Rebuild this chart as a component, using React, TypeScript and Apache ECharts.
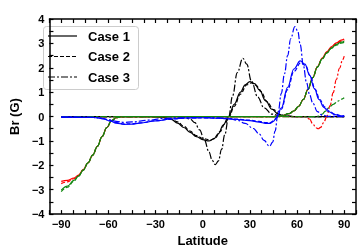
import React, { useEffect, useRef } from "react";
import * as echarts from "echarts";

const xTicks = [-90, -60, -30, 0, 30, 60, 90];
const yTicks = [-4, -3, -2, -1, 0, 1, 2, 3, 4];
const caseNames = ["Case 1", "Case 2", "Case 3"];

// Black curves
const black1: number[][] = [[-90,0],[-40,0],[-30,-0.01],[-25,-0.04],[-20,-0.12],[-16,-0.27],[-12,-0.45],[-8,-0.65],[-4,-0.82],[0,-0.95],[4,-1.0],[7,-0.92],[10,-0.7],[13,-0.35],[16.5,0],[20,0.5],[24,1.0],[27,1.3],[30,1.43],[33,1.35],[36,1.1],[40,0.65],[44,0.3],[48,0.1],[52,0.03],[58,0],[90,0]];
const black2: number[][] = [[-90,0],[-40,0],[-30,-0.01],[-25,-0.03],[-20,-0.1],[-16,-0.22],[-12,-0.4],[-8,-0.6],[-4,-0.78],[0,-0.9],[5,-0.96],[8,-0.88],[11,-0.62],[14,-0.3],[17,0.02],[20,0.42],[24,0.92],[28,1.3],[31,1.38],[34,1.28],[37,1.02],[41,0.6],[45,0.28],[49,0.09],[53,0.02],[58,0],[90,0]];
const black3: number[][] = [[-90,0],[-20,0],[-12,-0.03],[-8,-0.1],[-5,-0.25],[-2,-0.55],[1,-0.95],[4,-1.45],[6,-1.8],[8,-1.97],[10,-1.82],[12,-1.35],[14,-0.75],[16.5,0],[19,0.85],[22,1.8],[25.5,2.39],[28,2.15],[31,1.45],[35,0.8],[39,0.36],[44,0.1],[50,0.01],[56,0],[90,0]];

// Red curves
const red1: number[][] = [[-90,-2.66],[-86,-2.62],[-82,-2.52],[-79,-2.4],[-76,-2.18],[-73,-1.9],[-70,-1.58],[-67,-1.22],[-64,-0.82],[-61,-0.45],[-58,-0.17],[-55,-0.05],[-52,-0.01],[-48,0],[45,0],[50,0.03],[55,0.12],[58,0.23],[61,0.42],[64,0.7],[67,1.12],[70,1.6],[73,2.05],[76,2.4],[79,2.66],[82,2.87],[85,3.02],[88,3.13],[90,3.18]];
const red2: number[][] = [[-90,-2.75],[-86,-2.68],[-82,-2.55],[-79,-2.42],[-76,-2.19],[-73,-1.9],[-70,-1.58],[-67,-1.22],[-64,-0.82],[-61,-0.45],[-58,-0.17],[-55,-0.05],[-52,-0.01],[-48,0],[45,0],[50,0.03],[55,0.12],[58,0.23],[61,0.42],[64,0.7],[67,1.12],[70,1.6],[73,2.04],[76,2.38],[79,2.64],[82,2.84],[85,2.99],[88,3.09],[90,3.14]];
const red3: number[][] = [[-90,0],[65,0],[68,-0.1],[70,-0.3],[72,-0.46],[73.5,-0.5],[75,-0.44],[77,-0.24],[79,0.02],[81,0.45],[83,0.98],[85,1.52],[87,1.98],[89,2.33],[90,2.48]];

// Green curves
const green1: number[][] = [[-90,-3.02],[-86,-2.85],[-82,-2.62],[-79,-2.44],[-76,-2.2],[-73,-1.9],[-70,-1.58],[-67,-1.22],[-64,-0.82],[-61,-0.45],[-58,-0.17],[-55,-0.05],[-52,-0.01],[-48,0],[45,0],[50,0.03],[55,0.12],[58,0.23],[61,0.42],[64,0.7],[67,1.12],[70,1.6],[73,2.04],[76,2.37],[79,2.62],[82,2.82],[85,2.96],[88,3.05],[90,3.09]];
const green2: number[][] = [[-90,-3.08],[-86,-2.9],[-82,-2.65],[-79,-2.45],[-76,-2.2],[-73,-1.9],[-70,-1.58],[-67,-1.22],[-64,-0.82],[-61,-0.45],[-58,-0.17],[-55,-0.05],[-52,-0.01],[-48,0],[45,0],[50,0.03],[55,0.12],[58,0.23],[61,0.42],[64,0.7],[67,1.12],[70,1.6],[73,2.03],[76,2.36],[79,2.6],[82,2.8],[85,2.93],[88,3.01],[90,3.04]];
const green3: number[][] = [[-90,0],[72,0],[74,0.02],[76,0.1],[78,0.22],[80,0.35],[83,0.5],[86,0.63],[88,0.71],[90,0.77]];

// Blue curves
const blue1: number[][] = [[-90,-0.02],[-72,-0.03],[-67,-0.05],[-63,-0.1],[-59,-0.18],[-55,-0.27],[-50,-0.32],[-45,-0.31],[-40,-0.27],[-30,-0.18],[-20,-0.1],[-10,-0.06],[0,-0.05],[10,-0.07],[20,-0.11],[30,-0.17],[36,-0.23],[40,-0.28],[43,-0.28],[45,-0.2],[47,-0.05],[50,0.35],[54,1.2],[58,1.95],[62,2.28],[65,2.15],[68,1.7],[71,1.15],[74,0.7],[77,0.38],[80,0.2],[84,0.08],[88,0.03],[90,0.02]];
const blue2: number[][] = [[-90,-0.02],[-72,-0.03],[-67,-0.05],[-63,-0.09],[-59,-0.17],[-55,-0.25],[-50,-0.3],[-45,-0.3],[-40,-0.26],[-30,-0.17],[-20,-0.1],[-10,-0.06],[0,-0.05],[10,-0.07],[20,-0.1],[30,-0.15],[36,-0.2],[40,-0.25],[43,-0.25],[45,-0.18],[47,-0.04],[50,0.3],[54,1.1],[58,1.85],[62.5,2.22],[65.5,2.08],[68.5,1.65],[71.5,1.12],[74.5,0.7],[77.5,0.4],[80.5,0.22],[84,0.1],[88,0.04],[90,0.03]];
const blue3: number[][] = [[-90,-0.02],[-70,-0.03],[-65,-0.06],[-60,-0.12],[-55,-0.2],[-50,-0.24],[-45,-0.22],[-35,-0.15],[-25,-0.08],[-15,-0.05],[0,-0.04],[10,-0.05],[16,-0.07],[22,-0.15],[27,-0.28],[32,-0.48],[36,-0.72],[39,-0.98],[42.5,-1.22],[44.5,-1.05],[46,-0.6],[48,0.2],[50,0.95],[52,1.75],[54,2.5],[56,3.2],[58.6,3.69],[60.5,3.5],[62,2.95],[64,2.1],[66,1.4],[68,0.9],[70,0.55],[73,0.2],[76,0.06],[80,0.01],[90,0]];

const FONT = "Liberation Sans, Arial, sans-serif";
const DASHES: any[] = ["solid", [4, 2], [7, 2, 2, 2]];

export default function App() {
  const ref = useRef<HTMLDivElement>(null);
  useEffect(() => {
    if (!ref.current) return;
    const chart = echarts.init(ref.current, null, { renderer: "svg" });
    const groups: [string, number[][][]][] = [
      ["#000000", [black1, black2, black3]],
      ["#ff0000", [red1, red2, red3]],
      ["#118811", [green1, green2, green3]],
      ["#0000ff", [blue1, blue2, blue3]],
    ];
    const series: any[] = [];
    groups.forEach(([color, curves]) => {
      curves.forEach((d, i) => {
        series.push({
          type: "line",
          data: d,
          symbol: "none",
          showSymbol: false,
          smooth: 0.4,
          smoothMonotone: "x",
          silent: true,
          lineStyle: { color, width: 1.2, type: DASHES[i] },
        });
      });
    });
    const xLabel = (v: number) => {
      if (!xTicks.includes(v)) return "";
      return v < 0 ? "\u2212" + Math.abs(v) : String(v);
    };
    const yLabel = (v: number) => {
      if (!yTicks.includes(v)) return "";
      return v < 0 ? "\u2212" + Math.abs(v) : String(v);
    };
    const axisLine = { show: true, onZero: false, lineStyle: { color: "#000", width: 1.5 } };
    const tick = { show: true, inside: true, length: 4, lineStyle: { color: "#000", width: 1.2 } };

    const legendChildren: any[] = [
      {
        type: "rect",
        shape: { x: 43.5, y: 26.5, width: 95, height: 63, r: 3 },
        style: { fill: "#fff", stroke: "#cccccc", lineWidth: 1 },
      },
    ];
    caseNames.forEach((n, i) => {
      const y = 36 + i * 20.5;
      const dash = DASHES[i];
      legendChildren.push({
        type: "line",
        shape: { x1: 48, y1: y, x2: 77, y2: y },
        style: { stroke: "#000", lineWidth: 1.2, lineDash: dash === "solid" ? null : dash },
      });
      legendChildren.push({
        type: "text",
        x: 88,
        y,
        style: { text: n, fontFamily: FONT, fontSize: 13, fontWeight: "bold", fill: "#000", verticalAlign: "middle", align: "left" },
      });
    });

    chart.setOption({
      animation: false,
      grid: { left: 36, right: 4, top: 19, bottom: 33 },
      graphic: [{ type: "group", z: 100, children: legendChildren }],
      xAxis: [
        {
          type: "value",
          min: -97.5,
          max: 97.5,
          interval: 7.5,
          name: "Latitude",
          nameLocation: "middle",
          nameGap: 16,
          nameTextStyle: { fontFamily: FONT, fontSize: 13, fontWeight: "bold", color: "#000" },
          axisLine,
          axisTick: tick,
          splitLine: { show: false },
          axisLabel: { formatter: xLabel, margin: 4, fontFamily: FONT, fontSize: 11, fontWeight: "bold", color: "#000", showMinLabel: true, showMaxLabel: true },
        },
        {
          type: "value",
          position: "top",
          min: -97.5,
          max: 97.5,
          interval: 7.5,
          axisLine,
          axisTick: tick,
          splitLine: { show: false },
          axisLabel: { show: false },
        },
      ],
      yAxis: [
        {
          type: "value",
          min: -4,
          max: 4,
          interval: 0.5,
          name: "Br (G)",
          nameLocation: "middle",
          nameGap: 23,
          nameTextStyle: { fontFamily: FONT, fontSize: 13, fontWeight: "bold", color: "#000" },
          axisLine,
          axisTick: tick,
          splitLine: { show: false },
          axisLabel: { formatter: yLabel, margin: 5, fontFamily: FONT, fontSize: 11, fontWeight: "bold", color: "#000" },
        },
        {
          type: "value",
          position: "right",
          min: -4,
          max: 4,
          interval: 0.5,
          axisLine,
          axisTick: tick,
          splitLine: { show: false },
          axisLabel: { show: false },
        },
      ],
      series,
    });
    return () => chart.dispose();
  }, []);
  return <div ref={ref} style={{ position: "fixed", left: 0, top: 0, width: 360, height: 252 }} />;
}
